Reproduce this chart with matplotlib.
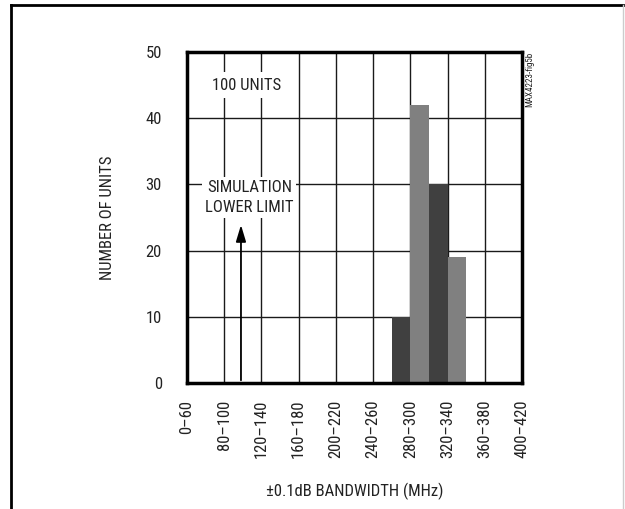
import matplotlib
matplotlib.use("Agg")
import matplotlib.pyplot as plt
from matplotlib.lines import Line2D

plt.rcParams['font.family'] = ['Liberation Sans Narrow', 'Roboto Condensed',
                               'Liberation Sans', 'DejaVu Sans']

# bandwidth bins (MHz) and unit counts
bin_lo = [270, 290, 310, 330]
bin_width = 20
counts = [10, 42, 30, 19]
bar_colors = ['#404040', '#808080', '#404040', '#808080']

tick_pos = [50, 90, 130, 170, 210, 250, 290, 330, 370, 410]
tick_labels = ['0–60', '80–100', '120–140', '160–180', '200–220',
               '240–260', '280–300', '320–340', '360–380', '400–420']
y_ticks = [0, 10, 20, 30, 40, 50]
sim_limit = 108

txt = '#222222'
fs = 12

fig = plt.figure(figsize=(6.25, 5.09), dpi=100)
ax = fig.add_axes([0.2992, 0.2475, 0.536, 0.6505])

ax.bar(bin_lo, counts, width=bin_width, align='edge', color=bar_colors, zorder=3)

ax.set_xlim(tick_pos[0], tick_pos[-1])
ax.set_ylim(0, 50)
ax.set_xticks(tick_pos)
ax.set_xticklabels(tick_labels, rotation=90)
ax.set_yticks(y_ticks)
ax.tick_params(axis='both', length=0, labelsize=fs, colors=txt)
ax.tick_params(axis='x', pad=12)
ax.tick_params(axis='y', pad=18)
ax.grid(True, color='#1a1a1a', linewidth=1, zorder=1)
ax.set_axisbelow(True)
for s in ax.spines.values():
    s.set_linewidth(2.5)
    s.set_color('black')
    s.set_zorder(5)

ax.set_ylabel('NUMBER OF UNITS', fontsize=fs, color=txt)
ax.yaxis.set_label_coords(-0.215, 0.5)
ax.set_xlabel('±0.1dB BANDWIDTH (MHz)', fontsize=fs, color=txt)
ax.xaxis.set_label_coords(0.5, -0.30)

ax.text(114, 45, '100 UNITS', ha='center', va='center', fontsize=fs,
        color=txt, bbox=dict(facecolor='white', edgecolor='none', pad=4), zorder=4)
ax.text(117, 28.0, 'SIMULATION\nLOWER LIMIT', ha='center', va='center',
        fontsize=fs, color=txt, linespacing=1.45,
        bbox=dict(facecolor='white', edgecolor='none', pad=2), zorder=4)
ax.annotate('', xy=(sim_limit, 24.3), xytext=(sim_limit, 0),
            arrowprops=dict(arrowstyle='-|>,head_width=0.3,head_length=1.0',
                            color='black', lw=1.3), zorder=4)

fig.text(530 / 625, 1 - 52 / 509, 'MAX4223-fig5b', rotation=90, ha='center',
         va='top', fontsize=6.5, color=txt)

# outer frame
fig.add_artist(Line2D([11 / 625, 11 / 625], [0, 1 - 5 / 509], color='black', lw=2))
fig.add_artist(Line2D([11 / 625, 623 / 625], [1 - 5 / 509, 1 - 5 / 509], color='black', lw=2))
fig.add_artist(Line2D([623 / 625, 623 / 625], [0, 1 - 5 / 509], color='#cccccc', lw=1))

fig.savefig('out.png', dpi=100)
